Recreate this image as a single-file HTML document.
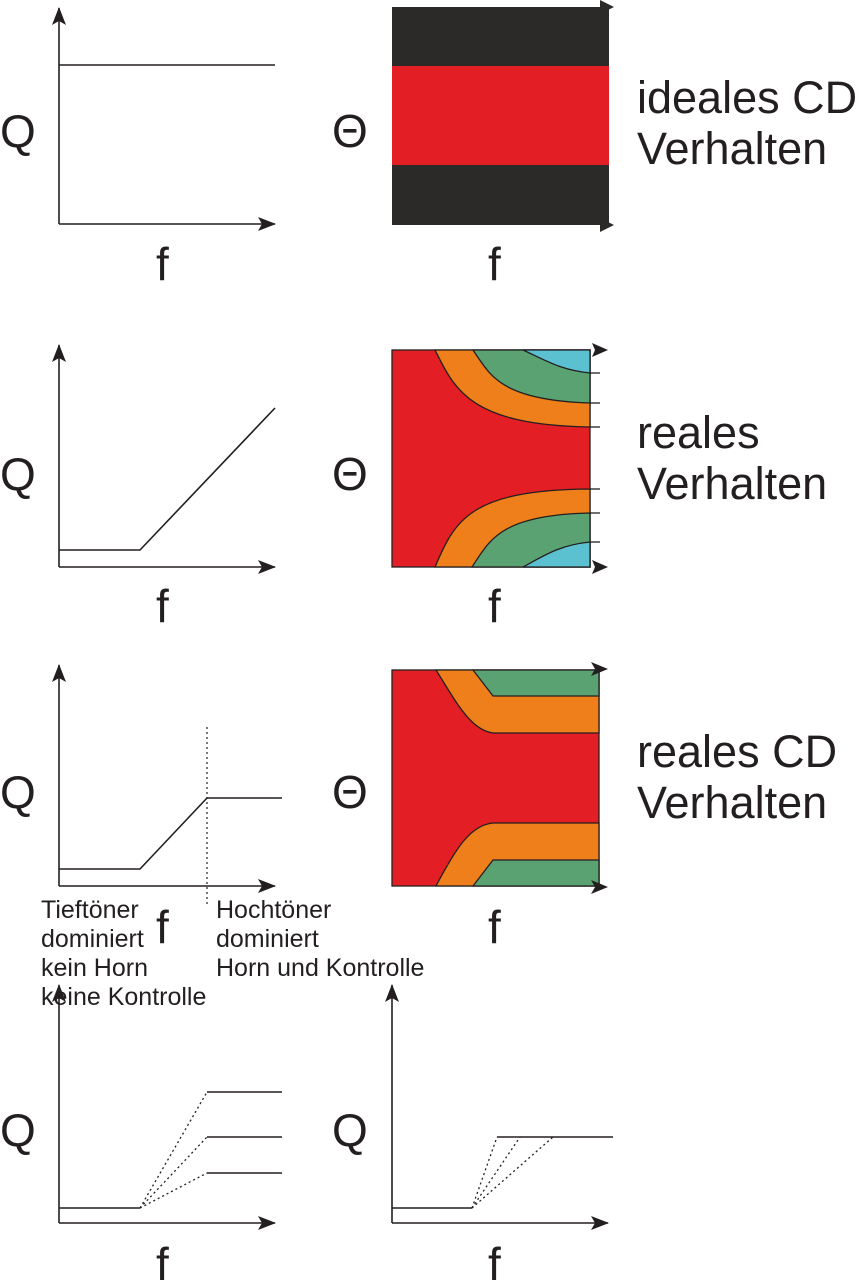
<!DOCTYPE html>
<html><head><meta charset="utf-8"><style>
html,body{margin:0;padding:0;background:#fff;}
svg{display:block;}
text{font-family:"Liberation Sans",sans-serif;fill:#231f20;}
</style></head><body>
<svg width="859" height="1280" viewBox="0 0 859 1280" xmlns="http://www.w3.org/2000/svg">
<defs>
<marker id="ar" markerWidth="18" markerHeight="14" refX="17" refY="7" orient="auto" markerUnits="userSpaceOnUse">
<path d="M0,0 L18,7 L0,14 L4,7 Z" fill="#231f20"/></marker>
</defs>
<g stroke="#231f20" stroke-width="1.6" fill="none">
<line x1="59" y1="224" x2="59" y2="8" marker-end="url(#ar)"/>
<line x1="59" y1="224" x2="275" y2="224" marker-end="url(#ar)"/>
<line x1="59" y1="65" x2="275" y2="65"/>
<line x1="59" y1="567" x2="59" y2="345" marker-end="url(#ar)"/>
<line x1="59" y1="567" x2="275" y2="567" marker-end="url(#ar)"/>
<polyline points="59,550 140,550 275,408"/>
<line x1="59" y1="886" x2="59" y2="665" marker-end="url(#ar)"/>
<line x1="59" y1="886" x2="275" y2="886" marker-end="url(#ar)"/>
<polyline points="59,869 140,869 207,798 282,798"/>
<line x1="207" y1="727" x2="207" y2="905" stroke-dasharray="2,3" stroke-width="1.2"/>
<line x1="59" y1="1223" x2="59" y2="985" marker-end="url(#ar)"/>
<line x1="59" y1="1223" x2="275" y2="1223" marker-end="url(#ar)"/>
<polyline points="59,1208 140,1208"/>
<line x1="207" y1="1092" x2="282" y2="1092"/>
<line x1="207" y1="1137" x2="282" y2="1137"/>
<line x1="207" y1="1173" x2="282" y2="1173"/>
<g stroke-dasharray="2,3" stroke-width="1.3">
<line x1="140" y1="1208" x2="207" y2="1092"/>
<line x1="140" y1="1208" x2="207" y2="1137"/>
<line x1="140" y1="1208" x2="207" y2="1173"/>
</g>
<line x1="392" y1="1223" x2="392" y2="985" marker-end="url(#ar)"/>
<line x1="392" y1="1223" x2="608" y2="1223" marker-end="url(#ar)"/>
<polyline points="392,1208 472,1208"/>
<line x1="497" y1="1137" x2="613" y2="1137"/>
<g stroke-dasharray="2,3" stroke-width="1.3">
<line x1="472" y1="1208" x2="497" y2="1137"/>
<line x1="472" y1="1208" x2="520" y2="1137"/>
<line x1="472" y1="1208" x2="553" y2="1137"/>
</g>
</g>

<rect x="392" y="7" width="217" height="218" fill="#2b2a29"/>
<rect x="392" y="66" width="217" height="99" fill="#e31e24"/>
<path d="M600,0 L614,7 L600,14 Z" fill="#2b2a29"/>
<path d="M600,218 L614,225 L600,232 Z" fill="#2b2a29"/>

<g stroke="#231f20" stroke-width="1.3">
<rect x="392" y="350" width="198" height="217" fill="#e31e24"/>
<path d="M435,350 C455,390 470,425 590,427 L590,350 Z" fill="#ef7f1a"/>
<path d="M473,350 C490,375 500,400 590,403 L590,350 Z" fill="#5ba272"/>
<path d="M523,350 C545,360 560,370 590,373 L590,350 Z" fill="#5bc0d0"/>
<path d="M435,567 C455,520 470,490 590,489 L590,567 Z" fill="#ef7f1a"/>
<path d="M472,567 C490,540 500,515 590,513 L590,567 Z" fill="#5ba272"/>
<path d="M523,567 C545,555 560,545 590,542 L590,567 Z" fill="#5bc0d0"/>
<line x1="590" y1="373" x2="600" y2="373"/><line x1="590" y1="403" x2="600" y2="403"/><line x1="590" y1="427" x2="600" y2="427"/>
<line x1="590" y1="489" x2="600" y2="489"/><line x1="590" y1="513" x2="600" y2="513"/><line x1="590" y1="542" x2="600" y2="542"/>
</g>
<path d="M592,343 L608,350 L592,357 L595,350 Z" fill="#231f20"/>
<path d="M592,560 L608,567 L592,574 L595,567 Z" fill="#231f20"/>

<g stroke="#231f20" stroke-width="1.3">
<rect x="392" y="670" width="207" height="216" fill="#e31e24"/>
<path d="M436,670 C455,700 470,730 493,733 L599,733 L599,670 Z" fill="#ef7f1a"/>
<path d="M473,670 L493,696 L599,696 L599,670 Z" fill="#5ba272"/>
<path d="M436,886 C455,850 470,825 493,823 L599,823 L599,886 Z" fill="#ef7f1a"/>
<path d="M473,886 L493,860 L599,860 L599,886 Z" fill="#5ba272"/>
</g>
<path d="M591,662 L608,669 L591,676 L595,669 Z" fill="#231f20"/>
<path d="M591,880 L608,887 L591,894 L595,887 Z" fill="#231f20"/>

<g font-size="46">
<text x="0" y="147">Q</text><text x="156" y="280">f</text>
<text x="0" y="490">Q</text><text x="156" y="622">f</text>
<text x="0" y="808">Q</text><text x="156" y="943">f</text>
<text x="0" y="1146">Q</text><text x="156" y="1280">f</text>
<text x="332" y="1146">Q</text><text x="488" y="1280">f</text>
<text x="332" y="147">Θ</text><text x="488" y="280">f</text>
<text x="332" y="490">Θ</text><text x="488" y="622">f</text>
<text x="332" y="808">Θ</text><text x="488" y="943">f</text>
</g>
<g font-size="45">
<text x="637" y="113">ideales CD</text><text x="637" y="164">Verhalten</text>
<text x="637" y="448">reales</text><text x="637" y="499">Verhalten</text>
<text x="637" y="767">reales CD</text><text x="637" y="818">Verhalten</text>
</g>
<g font-size="25">
<text x="41" y="918">Tieftöner</text><text x="41" y="947">dominiert</text><text x="41" y="976">kein Horn</text><text x="41" y="1005">keine Kontrolle</text>
<text x="216" y="918">Hochtöner</text><text x="216" y="947">dominiert</text><text x="216" y="976">Horn und Kontrolle</text>
</g>
</svg>
</body></html>
